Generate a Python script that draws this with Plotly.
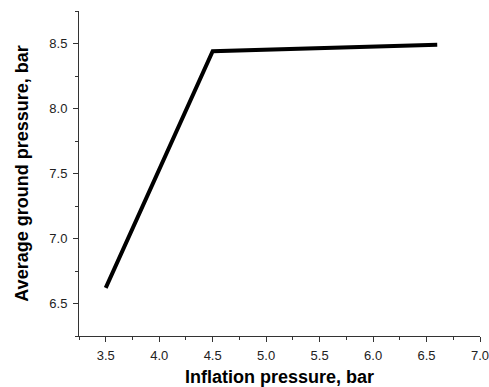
import plotly.graph_objects as go

inflation = [3.5, 4.5, 6.6]
ground = [6.62, 8.44, 8.49]

fig = go.Figure()
fig.add_trace(go.Scatter(x=inflation, y=ground, mode="lines",
                         line=dict(color="black", width=4), showlegend=False))

axis_common = dict(showline=True, linecolor="#333", linewidth=1, ticks="outside",
                   ticklen=5, tickcolor="#333", showgrid=False, zeroline=False,
                   tickfont=dict(family="Liberation Sans, Arial", size=13, color="#222"),
                   mirror=False, automargin=False, ticklabeloverflow="allow")

fig.update_xaxes(range=[3.25, 7.0], dtick=0.5, tick0=3.5, tickformat=".1f",
                 minor=dict(ticks="outside", ticklen=3, dtick=0.25, tick0=3.25, tickcolor="#333"),
                 ticklabelstandoff=2,
                 title=dict(text="<b>Inflation pressure, bar</b>", standoff=14,
                            font=dict(family="Liberation Sans, Arial", size=18, color="black")),
                 **axis_common)
fig.update_yaxes(range=[6.25, 8.75], dtick=0.5, tick0=6.5, tickformat=".1f",
                 minor=dict(ticks="outside", ticklen=3, dtick=0.25, tick0=6.25, tickcolor="#333"),
                 ticklabelstandoff=3,
                 title=dict(text="<b>Average ground pressure, bar</b>", standoff=16,
                            font=dict(family="Liberation Sans, Arial", size=18, color="black")),
                 **axis_common)

fig.update_layout(width=489, height=387, margin=dict(l=79, r=9, t=11, b=51),
                  plot_bgcolor="white", paper_bgcolor="white")
fig.write_html("out.html")
